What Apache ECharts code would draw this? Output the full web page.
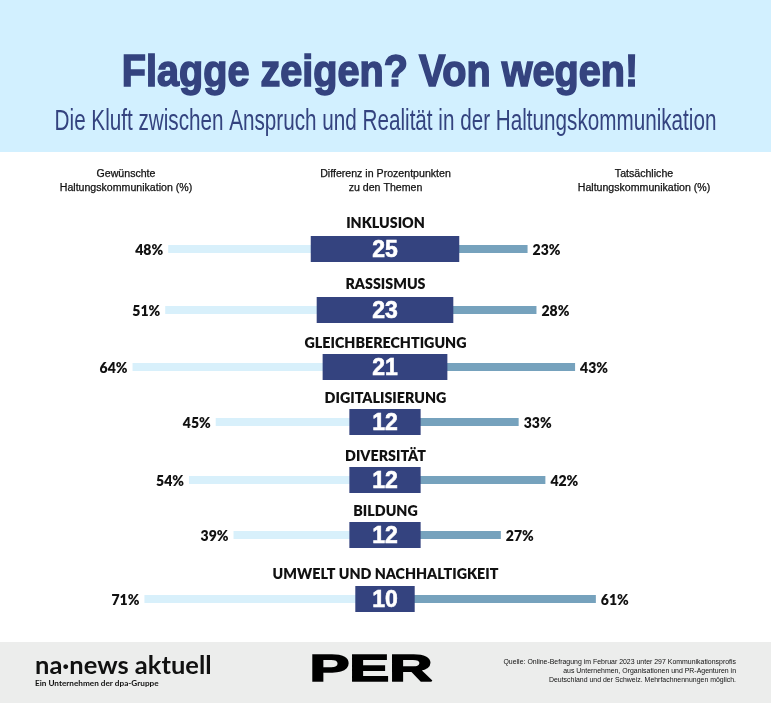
<!DOCTYPE html>
<html>
<head>
<meta charset="utf-8">
<title>Flagge zeigen? Von wegen!</title>
<style>
html, body { margin: 0; padding: 0; background: #fff; }
#main { width: 771px; height: 703px; }
</style>
<script src="https://cdn.jsdelivr.net/npm/echarts@6/dist/echarts.min.js"></script>
</head>
<body>
<div id="main"></div>
<script>
var categories = ['INKLUSION', 'RASSISMUS', 'GLEICHBERECHTIGUNG', 'DIGITALISIERUNG', 'DIVERSITÄT', 'BILDUNG', 'UMWELT UND NACHHALTIGKEIT'];
var desired = [48, 51, 64, 45, 54, 39, 71];
var actual = [23, 28, 43, 33, 42, 27, 61];
var difference = [25, 23, 21, 12, 12, 12, 10];

/* Zeilen stehen im Original nicht gleichmaessig, deshalb eigenes Grid pro Zeile */
var rowCenter = [249, 310, 367, 422, 480, 535, 599];
var titleY = [223, 284, 343, 398, 456, 511, 574];

var NAVY = '#34437f', LIGHT = '#d8f0fb', STEEL = '#76a2bd', HEADER = '#d2f0ff', FOOTER = '#ecedec';
var FONT = 'Lato, sans-serif', SANS = '"Liberation Sans", sans-serif';

function text(str, x, y, size, opt) {
    opt = opt || {};
    return {
        type: 'text', x: x, y: y, scaleX: opt.scaleX || 1, z: 10,
        style: {
            text: str, x: 0, y: 0,
            font: (opt.weight || 'normal') + ' ' + size + 'px ' + (opt.family || FONT),
            fill: opt.color || '#111', align: opt.align || 'center', verticalAlign: 'middle',
            stroke: opt.stroke || null, lineWidth: opt.stroke ? (opt.lineWidth || 0.5) : 0
        }
    };
}

var grids = [], xAxes = [], yAxes = [], series = [];
categories.forEach(function (name, i) {
    grids.push({left: 88, width: 594, top: rowCenter[i] - 14, height: 28});
    xAxes.push({type: 'value', gridIndex: i, min: -100, max: 100, show: false});
    yAxes.push({type: 'category', gridIndex: i, data: [name], show: false});
    yAxes.push({type: 'category', gridIndex: i, data: [name], show: false});
    var axisBase = {type: 'bar', xAxisIndex: i, silent: true, animation: false};
    var sideLabel = {show: true, color: '#111', fontFamily: FONT, fontWeight: 800, fontSize: 14, distance: 5, offset: [0, 1]};
    series.push(Object.assign({}, axisBase, {
        yAxisIndex: i * 2, barWidth: 8, z: 1,
        itemStyle: {color: LIGHT},
        label: Object.assign({}, sideLabel, {position: 'left', formatter: desired[i] + '%'}),
        data: [-(difference[i] + desired[i])]
    }));
    series.push(Object.assign({}, axisBase, {
        yAxisIndex: i * 2, barWidth: 8, barGap: '-100%', z: 1,
        itemStyle: {color: STEEL},
        label: Object.assign({}, sideLabel, {position: 'right', formatter: actual[i] + '%'}),
        data: [difference[i] + actual[i]]
    }));
    series.push(Object.assign({}, axisBase, {
        yAxisIndex: i * 2 + 1, barWidth: 26, stack: 'mitte' + i, z: 3,
        itemStyle: {color: NAVY},
        data: [-difference[i]]
    }));
    series.push(Object.assign({}, axisBase, {
        yAxisIndex: i * 2 + 1, barWidth: 26, stack: 'mitte' + i, z: 3,
        itemStyle: {color: NAVY},
        label: {
            show: true, position: [0, '50%'], offset: [0, 1.5], align: 'center', verticalAlign: 'middle',
            color: '#fff', fontFamily: SANS, fontWeight: 'bold', fontSize: 23,
            textBorderColor: '#fff', textBorderWidth: 0.6,
            formatter: String(difference[i])
        },
        data: [difference[i]]
    }));
});

var headOpt = {family: SANS, scaleX: 1.06, stroke: '#111', lineWidth: 0.25};
var srcOpt = {align: 'right', family: SANS, scaleX: 0.925};

var graphics = [
    {type: 'rect', shape: {x: 0, y: 0, width: 771, height: 152}, style: {fill: HEADER}, z: 0},
    {type: 'rect', shape: {x: 0, y: 642, width: 771, height: 61}, style: {fill: FOOTER}, z: 0},
    text('Flagge zeigen? Von wegen!', 380, 74, 45, {weight: 'bold', family: SANS, color: NAVY, scaleX: 0.88, stroke: NAVY, lineWidth: 1.6}),
    text('Die Kluft zwischen Anspruch und Realität in der Haltungskommunikation', 385.5, 122, 30, {family: SANS, color: NAVY, scaleX: 0.689}),
    text('Gewünschte', 126, 174, 10, headOpt),
    text('Haltungskommunikation (%)', 126, 188, 10, headOpt),
    text('Differenz in Prozentpunkten', 385.5, 174, 10, headOpt),
    text('zu den Themen', 385.5, 188, 10, headOpt),
    text('Tatsächliche', 644, 174, 10, headOpt),
    text('Haltungskommunikation (%)', 644, 188, 10, headOpt),
    text('na·news aktuell', 35, 666, 25, {weight: 'bold', align: 'left', scaleX: 1.02}),
    text('Ein Unternehmen der dpa-Gruppe', 35, 683, 8.2, {weight: 'bold', align: 'left'}),
    text('PER', 371, 671, 37, {weight: 'bold', family: SANS, scaleX: 1.62, color: '#000', stroke: '#000', lineWidth: 1.5}),
    text('Quelle: Online-Befragung im Februar 2023 unter 297 Kommunikationsprofis', 736, 662, 7.5, srcOpt),
    text('aus Unternehmen, Organisationen und PR-Agenturen in', 736, 671, 7.5, srcOpt),
    text('Deutschland und der Schweiz. Mehrfachnennungen möglich.', 736, 680, 7.5, srcOpt)
];
categories.forEach(function (name, i) {
    graphics.push(text(name, 385.5, titleY[i], 14, {weight: 800, scaleX: 1.02}));
});

var myChart = echarts.init(document.getElementById('main'), null, {renderer: 'canvas'});
myChart.setOption({
    animation: false,
    backgroundColor: '#fff',
    grid: grids,
    xAxis: xAxes,
    yAxis: yAxes,
    series: series,
    graphic: {elements: graphics}
});
</script>
</body>
</html>
